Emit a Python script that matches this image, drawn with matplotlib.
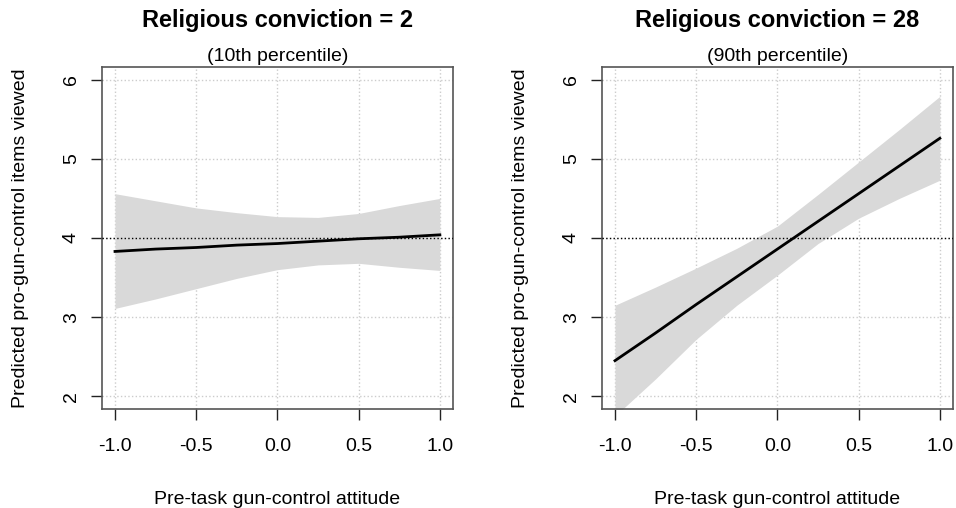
import matplotlib.pyplot as plt

plt.rcParams['font.family'] = ['Liberation Sans', 'DejaVu Sans']

x = [-1.0, -0.75, -0.5, -0.25, 0.0, 0.25, 0.5, 0.75, 1.0]

# panel 1: religious conviction = 2
fit_low = [3.83, 3.86, 3.88, 3.91, 3.93, 3.96, 3.99, 4.01, 4.04]
up_low = [4.56, 4.47, 4.38, 4.32, 4.27, 4.26, 4.31, 4.41, 4.50]
lo_low = [3.11, 3.23, 3.36, 3.49, 3.60, 3.66, 3.68, 3.63, 3.59]

# panel 2: religious conviction = 28
fit_high = [2.45, 2.80, 3.16, 3.51, 3.86, 4.21, 4.56, 4.91, 5.26]
up_high = [3.15, 3.38, 3.62, 3.87, 4.15, 4.55, 4.96, 5.37, 5.79]
lo_high = [1.75, 2.22, 2.72, 3.15, 3.53, 3.93, 4.25, 4.50, 4.73]

titles = ["Religious conviction = 2", "Religious conviction = 28"]
subtitles = ["(10th percentile)", "(90th percentile)"]
xticks = [-1.0, -0.5, 0.0, 0.5, 1.0]
yticks = [2, 3, 4, 5, 6]

fig = plt.figure(figsize=(9.56, 5.08), dpi=100)
ax1 = fig.add_axes([0.1067, 0.195, 0.367, 0.673])
ax2 = fig.add_axes([0.6297, 0.195, 0.367, 0.673])

panels = [(ax1, fit_low, up_low, lo_low), (ax2, fit_high, up_high, lo_high)]
for i, (ax, fit, up, lo) in enumerate(panels):
    ax.set_xlim(-1.08, 1.08)
    ax.set_ylim(1.84, 6.16)
    ax.grid(True, color='#cccccc', linestyle=':', linewidth=1)
    ax.set_axisbelow(True)
    ax.fill_between(x, lo, up, color='#d9d9d9', linewidth=0, zorder=2)
    ax.plot(x, fit, color='black', linewidth=2, zorder=3)
    ax.axhline(4, color='black', linestyle=':', linewidth=1, zorder=4)
    ax.set_xticks(xticks)
    ax.set_xticklabels(['%.1f' % v for v in xticks])
    ax.set_yticks(yticks)
    ax.set_yticklabels([str(v) for v in yticks], rotation=90, va='center')
    ax.tick_params(direction='out', length=8, width=1, color='#222222',
                   labelsize=14, pad=13)
    ax.tick_params(axis='y', pad=8)
    for s in ax.spines.values():
        s.set_color('#555555')
        s.set_linewidth(1.2)
    ax.set_xlabel("Pre-task gun-control attitude", fontsize=14, labelpad=26)
    ax.set_ylabel("Predicted pro-gun-control items viewed", fontsize=14, labelpad=24)
    ax.text(0.5, 1.137, titles[i], transform=ax.transAxes, ha='center',
            va='center', fontsize=17, fontweight='bold')
    ax.text(0.5, 1.03, subtitles[i], transform=ax.transAxes, ha='center',
            va='center', fontsize=14)

plt.savefig('out.png', dpi=100)
